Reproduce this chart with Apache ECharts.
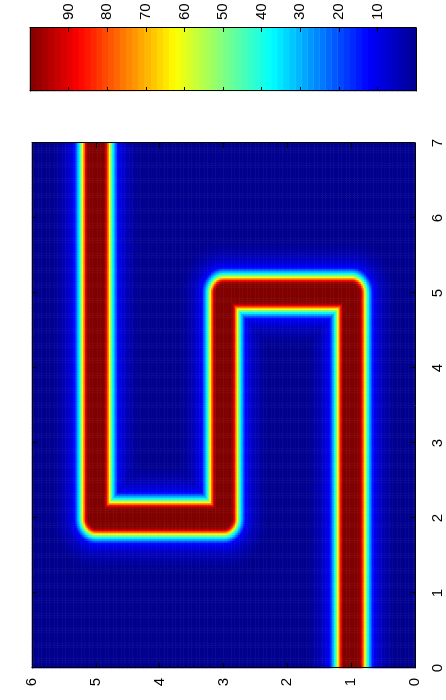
<!DOCTYPE html>
<html>
<head>
<meta charset="utf-8">
<title>Ridge field</title>
<script src="https://cdn.jsdelivr.net/npm/echarts@6/dist/echarts.min.js"></script>
<style>
  html, body { margin: 0; padding: 0; background: #fff; width: 446px; height: 700px; overflow: hidden; }
  /* the figure is laid out landscape and turned a quarter turn counter-clockwise */
  #chart {
    position: absolute; left: 0; top: 0;
    width: 700px; height: 446px;
    transform-origin: 0 0;
    transform: translate(0px, 700px) rotate(-90deg);
  }
</style>
</head>
<body>
<div id="chart"></div>
<script>
// Axis ticks
const xTicks = [0, 1, 2, 3, 4, 5, 6, 7];
const yTicks = [0, 1, 2, 3, 4, 5, 6];
const colorTicks = [0, 10, 20, 30, 40, 50, 60, 70, 80, 90, 100];

// Centre line of the ridge (polyline vertices)
const ridgeX = [0, 5, 5, 2, 2, 7];
const ridgeY = [1, 1, 3, 3, 5, 5];

// Cross-section of the ridge: value against distance from the centre line
const profileDist  = [0, 0.13, 0.17, 0.21, 0.26, 0.34, 0.42, 0.50, 0.60, 0.70];
const profileValue = [100, 100, 87.5, 62.5, 37.5, 12.5, 7, 4, 1.5, 0];

// Jet colour map and the number of levels on the colour bar
const jetColors = ['#00008f', '#0000ff', '#0080ff', '#00ffff', '#80ff80', '#ffff00', '#ff8000', '#ff0000', '#800000'];
const colorLevels = 64;

// Sampling step of the field
const cellStep = 0.025;

const xMin = xTicks[0], xMax = xTicks[xTicks.length - 1];
const yMin = yTicks[0], yMax = yTicks[yTicks.length - 1];
const cMin = colorTicks[0], cMax = colorTicks[colorTicks.length - 1];

function distToRidge(x, y) {
  let best = Infinity;
  for (let i = 0; i < ridgeX.length - 1; i++) {
    const ax = ridgeX[i], ay = ridgeY[i];
    const dx = ridgeX[i + 1] - ax, dy = ridgeY[i + 1] - ay;
    let t = ((x - ax) * dx + (y - ay) * dy) / (dx * dx + dy * dy);
    t = Math.max(0, Math.min(1, t));
    const px = ax + t * dx - x, py = ay + t * dy - y;
    best = Math.min(best, Math.hypot(px, py));
  }
  return best;
}

function profileAt(d) {
  const n = profileDist.length;
  if (d >= profileDist[n - 1]) return profileValue[n - 1];
  for (let i = 1; i < n; i++) {
    if (d <= profileDist[i]) {
      const f = (d - profileDist[i - 1]) / (profileDist[i] - profileDist[i - 1]);
      return profileValue[i - 1] + f * (profileValue[i] - profileValue[i - 1]);
    }
  }
  return profileValue[n - 1];
}

const nx = Math.round((xMax - xMin) / cellStep);
const ny = Math.round((yMax - yMin) / cellStep);
const fieldData = [];
for (let i = 0; i < nx; i++) {
  const x = xMin + (i + 0.5) * cellStep;
  for (let j = 0; j < ny; j++) {
    const y = yMin + (j + 0.5) * cellStep;
    fieldData.push([i, j, profileAt(distToRidge(x, y))]);
  }
}

const barData = [];
for (let k = 0; k < colorLevels; k++) {
  barData.push([0, k, cMin + (k + 0.5) * (cMax - cMin) / colorLevels]);
}

const FONT = "'Liberation Sans', Arial, Helvetica, sans-serif";
const INK = '#000';
const plotRect = { left: 32, right: 143, top: 32, bottom: 31 };
const barRect = { left: 609, right: 28, top: 30, bottom: 30 };

function rect(r) { return Object.assign({ outerBoundsMode: 'none', containLabel: false }, r); }
function hiddenCat(grid, n) {
  return { type: 'category', gridIndex: grid, show: false, data: Array.from({ length: n }, (_, i) => i) };
}
function frameAxis(grid, position, min, max, interval, tickLen, labels, margin, extraLabel) {
  return {
    type: 'value', gridIndex: grid, position: position,
    min: min, max: max, interval: interval, z: 5,
    axisLine: { show: true, onZero: false, lineStyle: { color: INK, width: 1 } },
    axisTick: { show: tickLen > 0, inside: true, length: tickLen, lineStyle: { color: INK, width: 1 } },
    axisLabel: Object.assign({ show: labels, color: INK, fontSize: 15, fontFamily: FONT, margin: margin }, extraLabel || {}),
    splitLine: { show: false }
  };
}

const chart = echarts.init(document.getElementById('chart'), null, { renderer: 'canvas' });
chart.setOption({
  animation: false,
  backgroundColor: '#fff',
  textStyle: { fontFamily: FONT },
  grid: [rect(plotRect), rect(plotRect), rect(plotRect), rect(barRect), rect(barRect), rect(barRect)],
  xAxis: [
    hiddenCat(0, nx),
    frameAxis(1, 'bottom', xMin, xMax, 1, 5, true, 15),
    frameAxis(2, 'top', xMin, xMax, 1, 5, false, 0),
    hiddenCat(3, 1),
    frameAxis(4, 'bottom', 0, 1, 1, 0, false, 0),
    frameAxis(5, 'top', 0, 1, 1, 0, false, 0)
  ],
  yAxis: [
    hiddenCat(0, ny),
    frameAxis(1, 'left', yMin, yMax, 1, 5, true, 10, { padding: [6, 0, 0, 0] }),
    frameAxis(2, 'right', yMin, yMax, 1, 5, false, 0),
    hiddenCat(3, colorLevels),
    frameAxis(4, 'left', cMin, cMax, 10, 4, false, 0),
    frameAxis(5, 'right', cMin, cMax, 10, 4, true, 8, { showMinLabel: false, showMaxLabel: false })
  ],
  visualMap: {
    type: 'continuous', show: false, min: cMin, max: cMax,
    dimension: 2, seriesIndex: [0, 1],
    inRange: { color: jetColors }
  },
  series: [
    {
      type: 'heatmap', xAxisIndex: 0, yAxisIndex: 0, data: fieldData,
      progressive: 0, silent: true, emphasis: { disabled: true },
      itemStyle: { borderWidth: 0 }
    },
    {
      type: 'heatmap', xAxisIndex: 3, yAxisIndex: 3, data: barData,
      progressive: 0, silent: true, emphasis: { disabled: true },
      itemStyle: { borderWidth: 0 }
    }
  ]
});
</script>
</body>
</html>
